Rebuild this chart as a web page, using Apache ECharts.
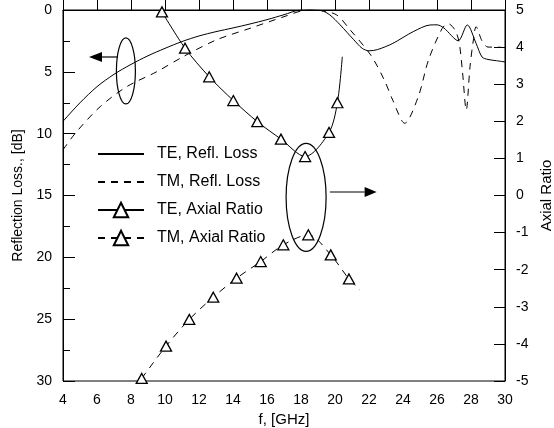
<!DOCTYPE html>
<html>
<head>
<meta charset="utf-8">
<script src="https://cdn.jsdelivr.net/npm/echarts@6/dist/echarts.min.js"></script>
<style>
html,body{margin:0;padding:0;background:#fff;}
#chart{width:554px;height:428px;}
</style>
</head>
<body>
<div id="chart"></div>
<script>
// ---- data ----
const xTicks = [4, 30, 2];               // min, max, interval (GHz)
const lossTicks = [0, 30, 5];            // dB, inverted axis
const arTicks = [-5, 5, 1];              // axial ratio

const teLossF = [4, 5, 6, 7, 8, 9, 10, 11, 12, 13, 14, 15, 16, 17, 17.9, 18.6, 19.2, 19.7, 20.3, 21.1, 21.6, 22.0, 22.5, 23.4, 24.6, 25.6, 26.0, 26.4, 27.25, 27.78, 28.3, 28.65, 29.0, 29.5, 30];
const teLoss  = [9.0, 7.5, 6.2, 5.2, 4.4, 3.7, 3.1, 2.55, 2.1, 1.75, 1.45, 1.13, 0.78, 0.38, 0.02, 0, 0.05, 0.4, 1.2, 2.4, 3.1, 3.3, 3.2, 2.7, 1.75, 1.21, 1.2, 1.45, 2.48, 1.21, 2.7, 3.8, 4.0, 4.1, 4.2];

const tmLossF = [4, 4.8, 6.2, 7.75, 9.5, 11.1, 13.0, 15.0, 17.0, 18.1, 18.7, 19.2, 20.1, 20.9, 22.1, 22.9, 23.4, 24.1, 24.9, 25.5, 26.3, 26.65, 27.05, 27.3, 27.5, 27.72, 27.94, 28.14, 28.3, 28.65, 29.0, 29.5, 30];
const tmLoss  = [11.3, 9.84, 7.8, 6.2, 5.0, 3.75, 2.43, 1.48, 0.54, 0.05, 0, 0.05, 0.4, 1.62, 3.64, 5.66, 7.3, 9.16, 7.0, 4.04, 1.5, 1.1, 1.6, 2.6, 5.0, 8.1, 4.6, 2.43, 1.35, 2.5, 3.0, 3.0, 3.05];

const teArF = [9.82, 11.18, 12.6, 14.02, 15.43, 16.82, 18.24, 19.65, 20.14, 20.43];
const teAr  = [4.95, 3.97, 3.2, 2.56, 1.99, 1.52, 1.05, 1.7, 2.5, 3.74];
const teArMarked = [1, 1, 1, 1, 1, 1, 1, 1, 1, 0];

const tmArF = [8.63, 10.06, 11.43, 12.84, 14.21, 15.63, 16.96, 18.43, 19.75, 20.82, 21.47];
const tmAr  = [-4.93, -4.06, -3.34, -2.74, -2.23, -1.78, -1.33, -1.06, -1.6, -2.25, -2.55];
const tmArMarked = [1, 1, 1, 1, 1, 1, 1, 1, 1, 1, 0];

const seriesNames = ['TE, Refl. Loss', 'TM, Refl. Loss', 'TE, Axial Ratio', 'TM, Axial Ratio'];
const axisNames = ['f, [GHz]', 'Reflection Loss., [dB]', 'Axial Ratio'];

// annotation anchors in data coordinates
const leftEllipseAt = [7.7, 4.93];     // (GHz, dB)
const leftArrowFrom = [7.24, 3.8];
const leftArrowTo = [5.53, 3.8];
const rightEllipseAt = [18.3, -0.05];  // (GHz, AR)
const rightArrowFrom = [19.7, 0.094];
const rightArrowTo = [22.45, 0.094];

// ---- build ----
const FONT = 'Liberation Sans, Arial, sans-serif';
function pairs(xs, ys, marked) {
  return xs.map((x, i) => {
    const d = { value: [x, ys[i]] };
    if (marked && !marked[i]) d.symbol = 'none';
    return d;
  });
}
const dash = [7, 6];
const hidden = { color: 'rgba(0,0,0,0)', borderColor: 'rgba(0,0,0,0)', borderWidth: 0 };
const chart = echarts.init(document.getElementById('chart'), null, { renderer: 'canvas' });
const option = {
  animation: false,
  backgroundColor: '#fff',
  textStyle: { fontFamily: FONT, color: '#000' },
  grid: { left: 63, right: 49, top: 10, bottom: 47, containLabel: false, outerBoundsMode: 'none', show: true, borderColor: '#000', borderWidth: 1, backgroundColor: 'transparent' },
  legend: {
    orient: 'vertical', left: 97, top: 145, padding: 0,
    itemWidth: 46, itemHeight: 18, itemGap: 10,
    textStyle: { fontSize: 16, fontFamily: FONT, color: '#000', padding: [0, 0, 0, 8], lineHeight: 18 },
    data: [
      { name: seriesNames[0], itemStyle: hidden },
      { name: seriesNames[1], itemStyle: hidden },
      { name: seriesNames[2] },
      { name: seriesNames[3] }
    ]
  },
  xAxis: {
    type: 'value', min: xTicks[0], max: xTicks[1], interval: xTicks[2],
    name: axisNames[0], nameLocation: 'middle', nameGap: 27,
    nameTextStyle: { fontSize: 15, fontFamily: FONT, color: '#000' },
    axisLine: { lineStyle: { color: '#000', width: 1 } },
    axisTick: { inside: true, length: 12, lineStyle: { color: '#000' } },
    axisLabel: { fontSize: 14, fontFamily: FONT, color: '#000', margin: 12 },
    splitLine: { show: false }
  },
  yAxis: [{
    type: 'value', inverse: true, min: lossTicks[0], max: lossTicks[1], interval: lossTicks[2],
    position: 'left',
    name: axisNames[1], nameLocation: 'middle', nameGap: 37, nameRotate: 90,
    nameTextStyle: { fontSize: 14, fontFamily: FONT, color: '#000' },
    axisLine: { show: true, lineStyle: { color: '#000', width: 1 } },
    axisTick: { inside: true, length: 12, lineStyle: { color: '#000' } },
    minorTick: { show: true, splitNumber: 2, length: 7, lineStyle: { color: '#000' } },
    axisLabel: { fontSize: 14, fontFamily: FONT, color: '#000', margin: 11 },
    splitLine: { show: false }
  }, {
    type: 'value', min: arTicks[0], max: arTicks[1], interval: arTicks[2],
    position: 'right',
    name: axisNames[2], nameLocation: 'middle', nameGap: 32, nameRotate: 90,
    nameTextStyle: { fontSize: 15, fontFamily: FONT, color: '#000' },
    axisLine: { show: true, lineStyle: { color: '#000', width: 1 } },
    axisTick: { inside: true, length: 11, lineStyle: { color: '#000' } },
    axisLabel: { fontSize: 14, fontFamily: FONT, color: '#000', margin: 11 },
    splitLine: { show: false }
  }],
  series: [{
    name: seriesNames[0], type: 'line', yAxisIndex: 0, symbol: 'none', smooth: 0.3,
    color: '#000', lineStyle: { color: '#000', width: 1 },
    data: pairs(teLossF, teLoss)
  }, {
    name: seriesNames[1], type: 'line', yAxisIndex: 0, symbol: 'none', smooth: 0.3,
    color: '#000', lineStyle: { color: '#000', width: 1, type: dash },
    data: pairs(tmLossF, tmLoss)
  }, {
    name: seriesNames[2], type: 'line', yAxisIndex: 1, symbol: 'triangle', symbolSize: [11, 10], smooth: 0.3,
    color: '#000', lineStyle: { color: '#000', width: 1 },
    itemStyle: { color: '#fff', borderColor: '#000', borderWidth: 1.3 },
    data: pairs(teArF, teAr, teArMarked)
  }, {
    name: seriesNames[3], type: 'line', yAxisIndex: 1, symbol: 'triangle', symbolSize: [11, 10], smooth: 0.3,
    color: '#000', lineStyle: { color: '#000', width: 1, type: dash },
    itemStyle: { color: '#fff', borderColor: '#000', borderWidth: 1.3 },
    data: pairs(tmArF, tmAr, tmArMarked)
  }]
};
chart.setOption(option);

// annotations (ellipses + arrows) placed through the axes' scales
function px(pt, yi) { return chart.convertToPixel({ xAxisIndex: 0, yAxisIndex: yi }, pt); }
function arrow(from, to, yi, head) {
  const a = px(from, yi), b = px(to, yi);
  const dir = Math.sign(b[0] - a[0]);
  const base = b[0] - dir * head;
  return [
    { type: 'line', shape: { x1: a[0], y1: a[1], x2: base, y2: b[1] }, style: { stroke: '#000', lineWidth: 1.2 } },
    { type: 'polygon', shape: { points: [[b[0], b[1]], [base, b[1] - 5], [base, b[1] + 5]] }, style: { fill: '#000' } }
  ];
}
const le = px(leftEllipseAt, 0), re = px(rightEllipseAt, 1);
chart.setOption({
  graphic: [
    { type: 'ellipse', shape: { cx: le[0], cy: le[1], rx: 9.5, ry: 33 }, style: { fill: 'none', stroke: '#000', lineWidth: 1.2 } },
    { type: 'ellipse', shape: { cx: re[0], cy: re[1], rx: 20, ry: 54 }, style: { fill: 'none', stroke: '#000', lineWidth: 1.2 } }
  ].concat(arrow(leftArrowFrom, leftArrowTo, 0, 13), arrow(rightArrowFrom, rightArrowTo, 1, 12))
});
</script>
</body>
</html>
